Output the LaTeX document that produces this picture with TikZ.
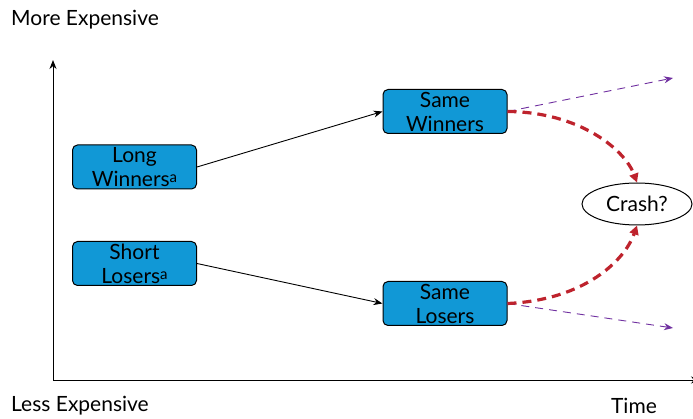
\documentclass[tikz,border=0pt]{standalone}
\usepackage{fontspec}
\setmainfont{Lato}
\usetikzlibrary{arrows.meta,shapes.geometric}
\definecolor{boxblue}{RGB}{17,152,214}
\definecolor{crashred}{RGB}{190,35,45}
\definecolor{trendpurple}{RGB}{112,48,160}
\tikzset{
  stockbox/.style={draw=black,line width=1pt,fill=boxblue,rounded corners=5pt,minimum width=124pt,minimum height=44pt,align=center,font=\fontsize{21}{24}\selectfont,inner sep=0pt},
  lbl/.style={font=\fontsize{21}{24}\selectfont,inner sep=0pt},
  conn/.style={-{Stealth[length=9pt,width=7pt]},line width=0.9pt},
  purp/.style={-{Stealth[length=9pt,width=7pt]},draw=trendpurple,line width=0.9pt,dash pattern=on 8pt off 6pt},
  redc/.style={-{Triangle[length=9pt,width=9pt]},draw=crashred,line width=3.2pt,dash pattern=on 9pt off 6pt}
}
\newcommand{\supa}{\raisebox{0.35ex}{\fontsize{15}{15}\selectfont a}}
\begin{document}
\begin{tikzpicture}[x=1pt,y=-1pt]
\useasboundingbox (0,0) rectangle (693,419);
\coordinate (origin) at (53,380);
\coordinate (ytop) at (53,60);
\coordinate (xend) at (700,380);
\draw[conn,line width=1pt] (origin) -- (ytop);
\draw[conn,line width=1pt] (origin) -- (xend);
\node[lbl,anchor=west] (more) at (11,20) {More Expensive};
\node[lbl,anchor=west] (less) at (11,406) {Less Expensive};
\node[lbl] (time) at (634,406) {Time};
\node[stockbox] (lw) at (134.5,167) {Long\\Winners\supa};
\node[stockbox] (sl) at (134.5,263.5) {Short\\Losers\supa};
\node[stockbox] (sw) at (445,111.5) {Same\\Winners};
\node[stockbox] (slo) at (445,303.5) {Same\\Losers};
\node[draw=black,line width=1pt,ellipse,minimum width=110pt,minimum height=42pt,inner sep=0pt,lbl] (crash) at (637,204) {Crash?};
\coordinate (pw) at (673,78);
\coordinate (pl) at (673,328);
\draw[conn] (lw.east) -- (sw.west);
\draw[conn] (sl.east) -- (slo.west);
\draw[purp] (sw.east) -- (pw);
\draw[purp] (slo.east) -- (pl);
\draw[redc] (sw.east) .. controls (580,112) and (625,150) .. (crash.north);
\draw[redc] (slo.east) .. controls (585,300) and (625,260) .. (crash.south);
\end{tikzpicture}
\end{document}
